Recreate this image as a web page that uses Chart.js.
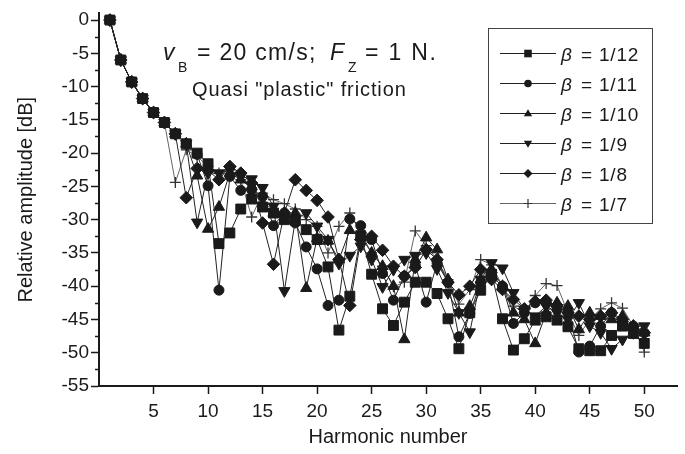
<!DOCTYPE html>
<html>
<head>
<meta charset="utf-8">
<title>Relative amplitude vs harmonic number</title>
<script src="https://cdn.jsdelivr.net/npm/chart.js@4.4.0/dist/chart.umd.min.js"></script>
<style>
    html, body { margin: 0; padding: 0; background: #fff; }
    #wrap { position: relative; width: 685px; height: 454px; }
</style>
</head>
<body>
<div id="wrap"><canvas id="ampChart" width="685" height="454"></canvas></div>
<script>
// Harmonic numbers (x axis categories)
const harmonics = [1, 2, 3, 4, 5, 6, 7, 8, 9, 10,
    11, 12, 13, 14, 15, 16, 17, 18, 19, 20,
    21, 22, 23, 24, 25, 26, 27, 28, 29, 30,
    31, 32, 33, 34, 35, 36, 37, 38, 39, 40,
    41, 42, 43, 44, 45, 46, 47, 48, 49, 50];

// Relative amplitude [dB]
const beta12 = [0, -6, -9.3, -11.8, -13.9, -15.4, -17.1, -18.6, -20.0, -21.6,
    -33.6, -32.0, -28.4, -26.9, -28.1, -29.0, -30.0, -30.1, -31.5, -33.0,
    -37.1, -46.6, -41.5, -32.4, -38.2, -43.4, -45.9, -42.4, -39.4, -39.4,
    -41.1, -44.9, -49.4, -44.0, -40.6, -38.2, -44.9, -49.6, -47.9, -45.1,
    -44.6, -45.1, -46.1, -49.4, -49.7, -49.7, -47.4, -46.0, -47.1, -48.6];
const beta11 = [0, -6, -9.3, -11.8, -13.9, -15.4, -17.1, -18.6, -20.2, -24.9,
    -40.6, -23.5, -25.6, -25.5, -26.5, -30.9, -29.0, -30.5, -34.1, -37.4,
    -42.9, -42.1, -29.9, -30.9, -33.0, -38.1, -42.1, -38.5, -36.9, -42.4,
    -36.5, -39.4, -47.6, -44.1, -39.5, -38.5, -40.0, -45.6, -44.0, -42.5,
    -42.5, -43.0, -44.0, -49.9, -49.0, -46.0, -44.0, -45.5, -46.0, -47.0];
const beta10 = [0, -6, -9.3, -11.8, -13.9, -15.4, -17.1, -18.6, -23.4, -31.4,
    -28.1, -23.0, -24.0, -25.0, -27.6, -29.0, -30.0, -29.0, -40.3, -32.8,
    -33.2, -36.0, -31.6, -32.5, -35.0, -37.0, -40.0, -48.0, -36.0, -32.7,
    -34.5, -39.0, -44.0, -43.0, -39.0, -37.5, -40.0, -44.0, -45.0, -48.6,
    -44.0, -42.5, -43.0, -46.5, -44.0, -44.5, -45.0, -44.5, -46.0, -47.0];
const beta9 = [0, -6, -9.3, -11.8, -13.9, -15.4, -17.1, -18.6, -30.4, -23.0,
    -23.0, -22.5, -23.5, -23.9, -25.2, -28.0, -40.7, -30.0, -29.0, -31.0,
    -33.0, -36.6, -35.4, -34.0, -36.0, -40.1, -37.5, -36.0, -35.4, -35.0,
    -37.4, -41.0, -44.0, -46.9, -39.0, -36.5, -37.3, -41.0, -43.5, -44.5,
    -43.0, -44.0, -45.0, -42.5, -46.0, -47.0, -49.4, -48.0, -47.0, -46.0];
const beta8 = [0, -6, -9.3, -11.8, -13.9, -15.4, -17.1, -26.7, -22.3, -22.6,
    -24.0, -22.0, -23.0, -24.5, -30.5, -36.7, -29.0, -24.0, -25.6, -27.1,
    -29.6, -36.0, -42.9, -33.0, -32.5, -34.6, -37.0, -38.5, -37.2, -34.5,
    -36.0, -39.4, -41.3, -40.0, -37.5, -39.0, -40.5, -42.0, -43.4, -42.3,
    -42.1, -43.0, -44.0, -44.5, -45.0, -44.5, -44.0, -45.0, -46.0, -47.0];
const beta7 = [0, -6, -9.3, -11.8, -13.9, -15.4, -24.4, -19.5, -20.5, -22.0,
    -23.0, -22.5, -24.0, -29.6, -26.0, -27.0, -27.6, -28.4, -30.0, -31.0,
    -35.0, -31.0, -29.0, -32.0, -35.0, -37.0, -40.1, -39.4, -31.7, -33.9,
    -36.0, -39.0, -42.7, -40.5, -36.0, -36.8, -40.0, -43.0, -44.0, -41.4,
    -39.6, -39.9, -44.0, -47.4, -45.0, -43.4, -42.5, -43.3, -46.0, -49.9];

const seriesLabels = ['1/12', '1/11', '1/10', '1/9', '1/8', '1/7'];
const xTicks = [5, 10, 15, 20, 25, 30, 35, 40, 45, 50];
const yTicks = [0, -5, -10, -15, -20, -25, -30, -35, -40, -45, -50, -55];
const yMinorTicks = [-2.5, -7.5, -12.5, -17.5, -22.5, -27.5, -32.5, -37.5, -42.5, -47.5, -52.5];

const FONT = 'Liberation Sans, Arial, Helvetica, sans-serif';
const INK = '#1a1a1a';

// marker look per series
const markers = [
    { style: 'rect', rotation: 0, radius: 7, line: '#222', fill: INK },
    { style: 'circle', rotation: 0, radius: 5, line: '#222', fill: INK },
    { style: 'triangle', rotation: 0, radius: 6.5, line: '#222', fill: INK },
    { style: 'triangle', rotation: 180, radius: 6.5, line: '#222', fill: INK },
    { style: 'rectRot', rotation: 0, radius: 6.3, line: '#222', fill: INK },
    { style: 'cross', rotation: 0, radius: 5.5, line: '#666', fill: '#333' }
];

function toPoints(values) {
    return harmonics.map((h, i) => ({ x: h, y: values[i] }));
}

const allSeries = [beta12, beta11, beta10, beta9, beta8, beta7];

const datasets = allSeries.map((values, i) => ({
    label: 'β = ' + seriesLabels[i],
    data: toPoints(values),
    borderColor: markers[i].line,
    borderWidth: 1,
    pointStyle: markers[i].style,
    rotation: markers[i].rotation,
    pointRadius: markers[i].radius,
    pointBackgroundColor: markers[i].fill,
    pointBorderColor: markers[i].fill,
    pointBorderWidth: markers[i].style === 'cross' ? 1.3 : 1,
    tension: 0,
    fill: false
}));

/**
 * Small manual marker for the legend box
 */
function drawMarker(ctx, style, rotation, r, x, y) {
    ctx.beginPath();
    if (style === 'rect') {
        ctx.rect(x - r, y - r, 2 * r, 2 * r);
        ctx.fill();
    } else if (style === 'circle') {
        ctx.arc(x, y, r, 0, Math.PI * 2);
        ctx.fill();
    } else if (style === 'triangle') {
        const s = rotation === 180 ? -1 : 1;
        ctx.moveTo(x, y - s * r * 1.1);
        ctx.lineTo(x + r * 1.1, y + s * r * 0.75);
        ctx.lineTo(x - r * 1.1, y + s * r * 0.75);
        ctx.closePath();
        ctx.fill();
    } else if (style === 'rectRot') {
        ctx.moveTo(x, y - r * 1.2);
        ctx.lineTo(x + r * 1.2, y);
        ctx.lineTo(x, y + r * 1.2);
        ctx.lineTo(x - r * 1.2, y);
        ctx.closePath();
        ctx.fill();
    } else if (style === 'cross') {
        ctx.moveTo(x - r, y);
        ctx.lineTo(x + r, y);
        ctx.moveTo(x, y - r);
        ctx.lineTo(x, y + r);
        ctx.stroke();
    }
}

function spaced(ctx, px) {
    if ('letterSpacing' in ctx) ctx.letterSpacing = px + 'px';
}

/**
 * Minor y ticks, legend box and annotation text
 */
const extrasPlugin = {
    id: 'extras',
    afterDraw(chart) {
        const ctx = chart.ctx;
        const yScale = chart.scales.y;
        const left = chart.chartArea.left;

        ctx.save();

        // minor ticks on the y axis
        ctx.strokeStyle = INK;
        ctx.lineWidth = 1.5;
        yMinorTicks.forEach(v => {
            const py = Math.round(yScale.getPixelForValue(v)) + 0.5;
            ctx.beginPath();
            ctx.moveTo(left - 4, py);
            ctx.lineTo(left, py);
            ctx.stroke();
        });

        // annotation
        ctx.fillStyle = INK;
        ctx.textBaseline = 'alphabetic';
        ctx.textAlign = 'left';
        spaced(ctx, 0);
        ctx.font = 'italic 23px ' + FONT;
        ctx.fillText('v', 163, 60);
        ctx.font = '14px ' + FONT;
        ctx.fillText('B', 178, 72);
        spaced(ctx, 1.3);
        ctx.font = '23px ' + FONT;
        ctx.fillText('= 20 cm/s;', 197, 60);
        spaced(ctx, 0);
        ctx.font = 'italic 23px ' + FONT;
        ctx.fillText('F', 330, 60);
        ctx.font = '14px ' + FONT;
        ctx.fillText('Z', 348, 72);
        spaced(ctx, 1.8);
        ctx.font = '23px ' + FONT;
        ctx.fillText('= 1 N.', 365, 60);

        spaced(ctx, 0.9);
        ctx.font = '20px ' + FONT;
        ctx.fillText('Quasi "plastic" friction', 192, 96);
        spaced(ctx, 0);

        // legend box
        ctx.strokeStyle = '#444';
        ctx.lineWidth = 1;
        ctx.strokeRect(488.5, 28.5, 164, 195);

        seriesLabels.forEach((lab, i) => {
            const y = 53.5 + 30 * i;
            const m = markers[i];
            ctx.strokeStyle = m.line;
            ctx.lineWidth = 1;
            ctx.beginPath();
            ctx.moveTo(500, y);
            ctx.lineTo(556, y);
            ctx.stroke();

            ctx.fillStyle = m.fill;
            ctx.strokeStyle = m.fill;
            ctx.lineWidth = 1.2;
            drawMarker(ctx, m.style, m.rotation, m.style === 'cross' ? 4.5 : 3.8, 528, y);

            ctx.fillStyle = INK;
            ctx.textAlign = 'left';
            ctx.font = 'italic 19px ' + FONT;
            ctx.fillText('β', 561, y + 7);
            ctx.font = '19px ' + FONT;
            ctx.fillText('=', 581, y + 7);
            spaced(ctx, 0.8);
            ctx.fillText(lab, 599, y + 7);
            spaced(ctx, 0);
        });

        ctx.restore();
    }
};

const ctx = document.getElementById('ampChart').getContext('2d');

new Chart(ctx, {
    type: 'line',
    data: { datasets: datasets },
    options: {
        responsive: false,
        animation: false,
        events: [],
        layout: { padding: { top: 12, right: 3, bottom: 0, left: 0 } },
        plugins: {
            legend: { display: false },
            tooltip: { enabled: false }
        },
        scales: {
            x: {
                type: 'linear',
                min: 0,
                max: 53,
                afterBuildTicks: s => { s.ticks = xTicks.map(v => ({ value: v })); },
                afterFit: s => { s.height = 68; },
                border: { display: true, color: INK, width: 2 },
                grid: {
                    drawOnChartArea: false,
                    drawTicks: true,
                    tickLength: 8,
                    tickColor: INK,
                    tickWidth: 1.5
                },
                ticks: {
                    autoSkip: false,
                    maxRotation: 0,
                    padding: 6,
                    color: INK,
                    font: { family: FONT, size: 19 }
                },
                title: {
                    display: true,
                    text: 'Harmonic number',
                    color: INK,
                    font: { family: FONT, size: 20 },
                    padding: { top: 0, bottom: 5 }
                }
            },
            y: {
                type: 'linear',
                min: -55,
                max: 1,
                afterBuildTicks: s => { s.ticks = yTicks.map(v => ({ value: v })); },
                afterFit: s => { s.width = 99; },
                border: { display: true, color: INK, width: 2 },
                grid: {
                    drawOnChartArea: false,
                    drawTicks: true,
                    tickLength: 8,
                    tickColor: INK,
                    tickWidth: 1.5
                },
                ticks: {
                    autoSkip: false,
                    padding: 2,
                    color: INK,
                    font: { family: FONT, size: 19 },
                    callback: v => String(v)
                },
                title: {
                    display: true,
                    text: 'Relative amplitude [dB]',
                    color: INK,
                    font: { family: FONT, size: 20 },
                    padding: { top: 14, bottom: 0 }
                }
            }
        }
    },
    plugins: [extrasPlugin]
});
</script>
</body>
</html>
